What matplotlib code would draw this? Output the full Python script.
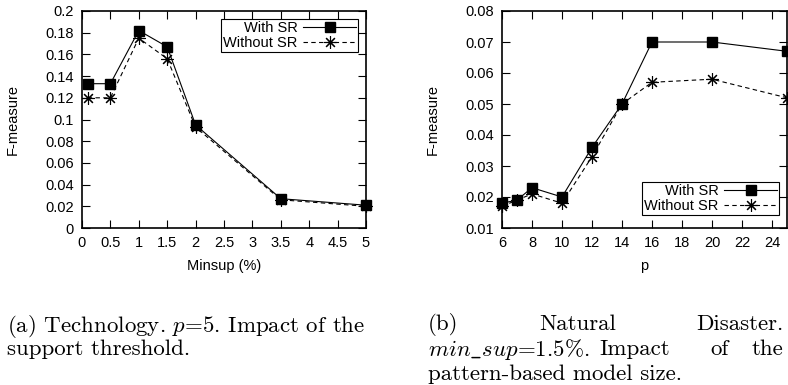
import matplotlib
matplotlib.use('Agg')
import matplotlib.pyplot as plt
from matplotlib.ticker import FormatStrFormatter

plt.rcParams['font.family'] = 'Liberation Sans'
plt.rcParams['mathtext.fontset'] = 'cm'

# (a) Technology, impact of the support threshold
minsup = [0.1, 0.5, 1, 1.5, 2, 3.5, 5]
tech_with = [0.133, 0.133, 0.182, 0.167, 0.095, 0.027, 0.021]
tech_without = [0.120, 0.120, 0.175, 0.156, 0.093, 0.026, 0.020]

# (b) Natural disaster, impact of model size p
p_vals = [6, 7, 8, 10, 12, 14, 16, 20, 25]
nat_with = [0.018, 0.019, 0.023, 0.020, 0.036, 0.050, 0.070, 0.070, 0.067]
nat_without = [0.017, 0.019, 0.021, 0.018, 0.033, 0.050, 0.057, 0.058, 0.052]

W, H = 788, 385
fig = plt.figure(figsize=(W / 100, H / 100), dpi=100)

def box(x0, x1, y0, y1):
    return [x0 / W, 1 - y1 / H, (x1 - x0) / W, (y1 - y0) / H]

star = (8, 2, 0)
fs = 10.5

def draw(ax, x, yw, yo, xlabel, leg_loc, leg_anchor):
    ax.plot(x, yw, color='black', lw=0.8, marker='s', ms=7, label='With SR', clip_on=False)
    ax.plot(x, yo, color='black', lw=0.8, ls=(0, (4, 3)), marker=star, ms=9, mew=0.8,
            label='Without SR', clip_on=False)
    ax.set_xlabel(xlabel, fontsize=fs, labelpad=6)
    ax.set_ylabel('F-measure', fontsize=fs, labelpad=18)
    ax.tick_params(direction='in', length=6, width=0.8, top=True, right=True,
                   labelsize=fs, pad=6)
    for s in ax.spines.values():
        s.set_linewidth(1.2)
    leg = ax.legend(loc=leg_loc, bbox_to_anchor=leg_anchor, markerfirst=False,
                    fancybox=False, edgecolor='black', fontsize=fs, borderpad=0.15,
                    labelspacing=0.05, handlelength=3.6, handletextpad=0.4,
                    borderaxespad=0, framealpha=1)
    leg.get_frame().set_linewidth(0.8)

ax1 = fig.add_axes(box(82, 366, 11, 228))
draw(ax1, minsup, tech_with, tech_without, 'Minsup (%)', 'upper right', (0.972, 0.963))
ax1.set_xlim(0, 5)
ax1.set_ylim(0, 0.2)
ax1.set_xticks([i * 0.5 for i in range(11)])
ax1.set_yticks([i * 0.02 for i in range(11)])
ax1.xaxis.set_major_formatter(FormatStrFormatter('%g'))
ax1.yaxis.set_major_formatter(FormatStrFormatter('%g'))

ax2 = fig.add_axes(box(502, 787, 11, 228))
draw(ax2, p_vals, nat_with, nat_without, 'p', 'lower right', (0.972, 0.06))
ax2.set_xlim(6, 25)
ax2.set_ylim(0.01, 0.08)
ax2.set_xticks(range(6, 25, 2))
ax2.set_yticks([0.01 * i for i in range(1, 9)])
ax2.yaxis.set_major_formatter(FormatStrFormatter('%g'))

# captions
cap = dict(family='cmr10', fontsize=16.5, va='center_baseline')
def t(x, y, s, ha='left'):
    fig.text(x / W, 1 - y / H, s, ha=ha, **cap)

t(7, 322, r'(a) Technology. $p$=5. Impact of the')
t(7, 347, 'support threshold.')
t(428, 322, '(b)')
t(578, 322, 'Natural', ha='center')
t(783, 322, 'Disaster.', ha='right')
t(428, 347, r'$min\_sup$=1.5%.')
t(635, 347, 'Impact', ha='center')
t(720, 347, 'of', ha='center')
t(783, 347, 'the', ha='right')
t(428, 372, 'pattern-based model size.')

fig.savefig('out.png', dpi=100)
